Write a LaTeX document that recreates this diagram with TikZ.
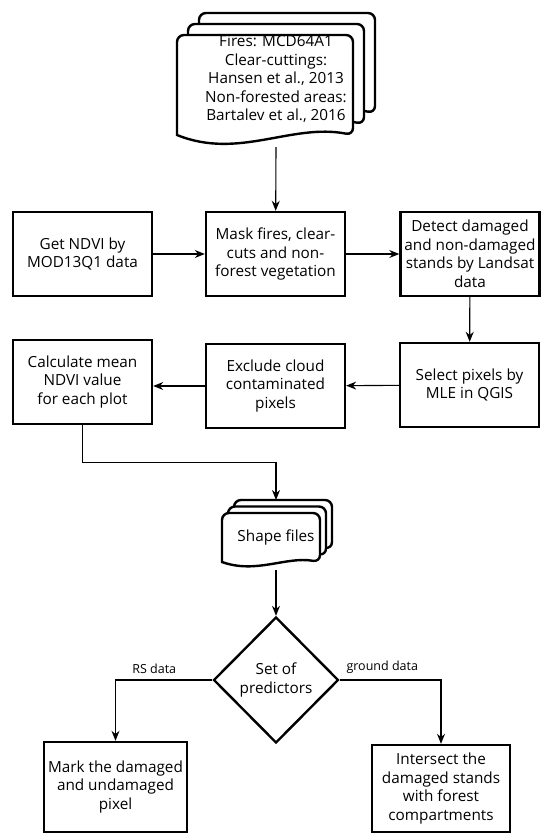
\documentclass[tikz,border=0pt]{standalone}
\usepackage{fontspec}
\setmainfont{Open Sans}
\usetikzlibrary{arrows.meta,shapes.geometric}

% one sheet of a document stack: left, top, width, height
\newcommand{\docpage}[4]{%
  \draw[page] (#1,{#2+#4}) [rounded corners=7pt] -- (#1,#2) -- ({#1+#3},#2)
    -- ({#1+#3},{#2+#4}) [sharp corners]
    .. controls ({#1+0.65*#3},{#2+#4-0.12*#4}) and ({#1+0.35*#3},{#2+#4+0.25*#4})
    .. (#1,{#2+#4}) -- cycle;
}

\begin{document}
\begin{tikzpicture}[
  x=1pt, y=-1pt,
  box/.style={draw, line width=2.4pt, minimum width=139pt, minimum height=84pt,
              align=center, inner sep=1pt, font=\fontsize{15.3}{18.5}\selectfont},
  pred/.style={draw, diamond, aspect=1, line width=2.4pt, minimum width=125pt,
               minimum height=126pt, inner sep=0pt, align=center,
               font=\fontsize{15.3}{18.5}\selectfont},
  txt/.style={align=center, font=\fontsize{15.3}{18.5}\selectfont},
  page/.style={draw, line width=2.4pt, fill=white},
  flow/.style={-{Stealth[length=10pt,width=8pt]}, line width=1.1pt},
  lbl/.style={font=\fontsize{12.5}{14}\selectfont},
]
\useasboundingbox (0,0) rectangle (550,838);

% --- input data (stack of documents) ---
\docpage{199}{13}{176}{100}
\docpage{188}{24}{176}{100}
\docpage{177}{35}{176}{100}
\node[txt] (src) at (276,79) {Fires: MCD64A1\\Clear-cuttings:\\Hansen et al., 2013\\Non-forested areas:\\Bartalev et al., 2016};
\coordinate (srcout) at (276,147);

% --- first row ---
\node[box] (ndvi)   at (82.5,254)  {Get NDVI by\\MOD13Q1 data};
\node[box] (mask)   at (275.5,254) {Mask fires, clear-\\cuts and non-\\forest vegetation};
\node[box] (detect) at (470,254)   {Detect damaged\\and non-damaged\\stands by Landsat\\data};

% --- second row ---
\node[box] (calc) at (82.5,382)  {Calculate mean\\NDVI value\\for each plot};
\node[box] (excl) at (275.5,386) {Exclude cloud\\contaminated\\pixels};
\node[box] (sel)  at (469.5,385) {Select pixels by\\MLE in QGIS};

% --- shape files (stack of documents) ---
\docpage{234}{500}{98}{49}
\docpage{228}{506.5}{98}{49}
\docpage{222}{513}{98}{49}
\node[txt] (shp) at (276,537) {Shape files};
\coordinate (shpin)  at (276,500);
\coordinate (shpout) at (276,570);

% --- decision and results ---
\node[pred] (pred) at (276,680) {Set of\\predictors};
\node[box, minimum width=143pt, minimum height=90pt] (mark) at (115.5,787)
  {Mark the damaged\\and undamaged\\pixel};
\node[box, minimum width=138pt, minimum height=87pt] (inter) at (441,788.5)
  {Intersect the\\damaged stands\\with forest\\compartments};

% --- connectors ---
\draw[flow] (srcout) -- (mask);
\draw[flow] (ndvi) -- (mask);
\draw[flow] (mask) -- (detect);
\draw[flow] (detect) -- (sel);
\draw[flow] (sel) -- (excl);
\draw[flow] (excl.west) -- (excl.west -| calc.east);
\draw[flow] (calc.south) -- ++(0,37) -| (shpin);
\draw[flow] (shpout) -- (pred);
\draw[flow] (pred.west) -| node[lbl, pos=0.3, above=3pt] {RS data} (mark);
\draw[flow] (pred.east) -| node[lbl, pos=0.21, above=3pt] {ground data} (inter);
\end{tikzpicture}
\end{document}
